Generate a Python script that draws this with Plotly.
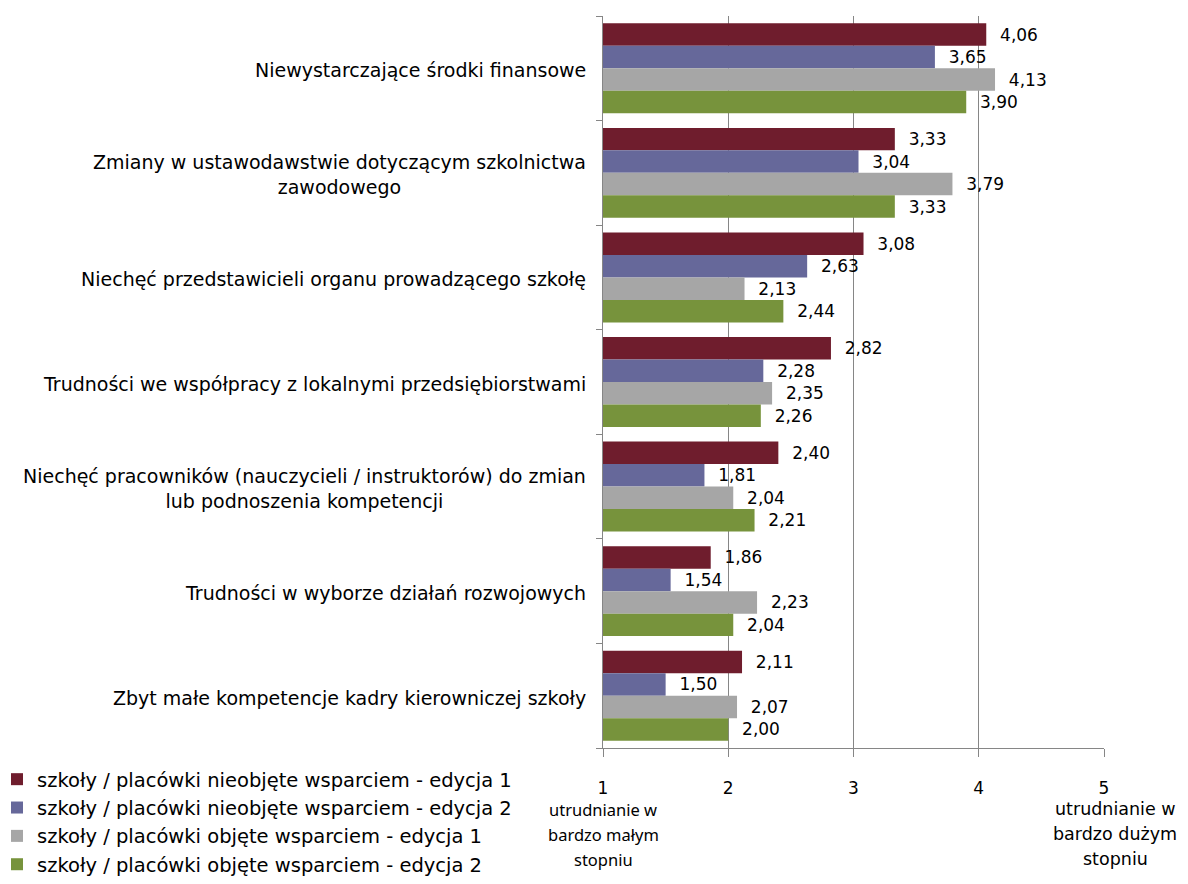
import plotly.graph_objects as go

categories = [
    "Niewystarczające środki finansowe",
    "Zmiany w ustawodawstwie dotyczącym szkolnictwa<br>zawodowego",
    "Niechęć przedstawicieli organu prowadzącego szkołę",
    "Trudności we współpracy z lokalnymi przedsiębiorstwami",
    "Niechęć pracowników (nauczycieli / instruktorów) do zmian<br>lub podnoszenia kompetencji",
    "Trudności w wyborze działań rozwojowych",
    "Zbyt małe kompetencje kadry kierowniczej szkoły",
]
series_names = [
    "szkoły / placówki nieobjęte wsparciem - edycja 1",
    "szkoły / placówki nieobjęte wsparciem - edycja 2",
    "szkoły / placówki objęte wsparciem - edycja 1",
    "szkoły / placówki objęte wsparciem - edycja 2",
]
nie_ed1 = [4.06, 3.33, 3.08, 2.82, 2.40, 1.86, 2.11]
nie_ed2 = [3.65, 3.04, 2.63, 2.28, 1.81, 1.54, 1.50]
obj_ed1 = [4.13, 3.79, 2.13, 2.35, 2.04, 2.23, 2.07]
obj_ed2 = [3.90, 3.33, 2.44, 2.26, 2.21, 2.04, 2.00]
colors = ["#6F1D2D", "#66689A", "#A6A6A6", "#77933C"]
x_ticks = [1, 2, 3, 4, 5]
low_label = ["utrudnianie w", "bardzo małym", "stopniu"]
high_label = ["utrudnianie w", "bardzo dużym", "stopniu"]

F1 = "DejaVu Sans"
F2 = "Noto Sans"
L, R, T, B = 595, 92, 8, 144
PW = 1188 - L - R

fig = go.Figure()
for name, vals, col in zip(series_names, [nie_ed1, nie_ed2, obj_ed1, obj_ed2], colors):
    fig.add_trace(go.Bar(
        y=list(range(len(categories))),
        x=[v - 1 for v in vals],
        base=1,
        orientation="h",
        name=name,
        marker=dict(color=col, line=dict(width=0)),
        text=["\u00a0\u00a0" + f"{v:.2f}".replace(".", ",") for v in vals],
        textposition="outside",
        constraintext="none",
        cliponaxis=False,
        textfont=dict(family=F1, size=17, color="#000000"),
        hoverinfo="skip",
    ))

for i, c in enumerate(categories):
    fig.add_annotation(
        x=0, xref="paper", xanchor="right", xshift=-15,
        y=i, yref="y", yanchor="middle", yshift=-2,
        text=c, showarrow=False, align="center",
        font=dict(family=F1, size=19, color="#000000"),
    )

for k, line in enumerate(low_label):
    fig.add_annotation(x=1, xref="x", y=0, yref="paper", yshift=-61 - 25 * k,
                       yanchor="middle", text=line, showarrow=False,
                       font=dict(family=F2, size=16.5, color="#000000"))
for k, line in enumerate(high_label):
    fig.add_annotation(x=5, xref="x", xshift=11, y=0, yref="paper", yshift=-61 - 25 * k,
                       yanchor="middle", text=line, showarrow=False,
                       font=dict(family=F1, size=17.5, color="#000000"))

fig.update_layout(
    width=1188, height=884,
    paper_bgcolor="white", plot_bgcolor="white",
    margin=dict(l=L, r=R, t=T, b=B, autoexpand=False),
    barmode="group", bargap=0.14, bargroupgap=0,
    font=dict(family=F1, size=17, color="#000000"),
    showlegend=True,
    legend=dict(
        xref="paper", yref="container", x=(-11 - L) / PW, y=1 - 752 / 884,
        xanchor="left", yanchor="top",
        font=dict(family=F1, size=19.5, color="#000000"),
        tracegroupgap=0, itemwidth=30, traceorder="normal",
        bgcolor="rgba(0,0,0,0)",
    ),
    xaxis=dict(
        range=[1, 5], tickvals=x_ticks, ticktext=[str(t) for t in x_ticks],
        showgrid=True, gridcolor="#868686", gridwidth=1,
        showline=True, linecolor="#868686", linewidth=1,
        ticks="outside", ticklen=8, tickcolor="#868686",
        ticklabelstandoff=17, zeroline=False,
        tickfont=dict(family=F1, size=17, color="#000000"),
    ),
    yaxis=dict(
        range=[6.5, -0.5],
        tickvals=[i - 0.5 for i in range(len(categories) + 1)],
        showticklabels=False,
        showgrid=False, zeroline=False,
        showline=True, linecolor="#868686", linewidth=1,
        ticks="outside", ticklen=6, tickcolor="#868686",
    ),
)
fig.write_html("out.html")
